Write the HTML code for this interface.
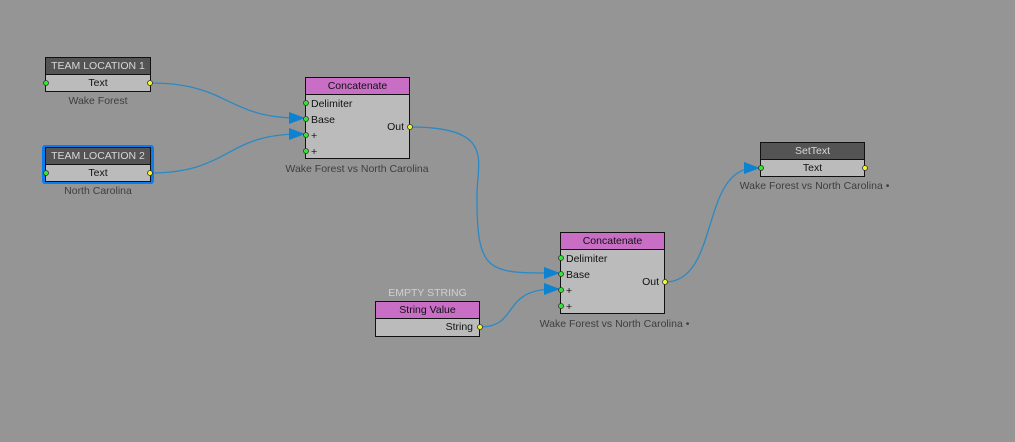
<!DOCTYPE html>
<html><head><meta charset="utf-8"><style>
html,body{margin:0;padding:0}
body{width:1015px;height:442px;background:#959595;position:relative;overflow:hidden;font-family:"Liberation Sans","DejaVu Sans",sans-serif;font-size:10.5px;color:#111}
.n{position:absolute;border:1px solid #111;background:#bbbbbb;box-sizing:border-box}
.h{height:17px;line-height:17px;text-align:center;border-bottom:1px solid #111;box-sizing:border-box}
.dk{background:#545454;color:#d8d8d8}
.pk{background:#c86ec4;color:#111}
.r{height:16px;line-height:17px;position:relative;padding-left:5px}
.lbl{position:absolute;color:#3e3e3e;font-size:10.5px;text-align:center}
</style></head><body>
<svg width="1015" height="442" style="position:absolute;left:0;top:0" xmlns="http://www.w3.org/2000/svg">
<g fill="none" stroke="#2a89c5" stroke-width="1.3">
<path d="M150 83 C230 83 225 118 300 118"/>
<path d="M150 173 C230 173 225 134 300 134"/>
<path d="M410 127 C500 127 475 165 477 200 C477 274 490 273 555 273"/>
<path d="M480 327 C520 327 500 289 555 289"/>
<path d="M665 282 C720 282 700 168 755 168"/>
</g>
<g fill="#0c82d0">
<polygon points="289,112 305,118 289,124"/>
<polygon points="289,128 305,134 289,140"/>
<polygon points="544,267 560,273 544,279"/>
<polygon points="544,283 560,289 544,295"/>
<polygon points="744,162 760,168 744,174"/>
</g>
</svg>

<div class="n" style="left:45px;top:57px;width:106px;height:35px">
<div class="h dk">TEAM LOCATION 1</div>
<div class="r" style="text-align:center;padding:0">Text</div></div>
<div class="lbl" style="left:45px;top:95px;width:106px">Wake Forest</div>

<div style="position:absolute;left:42px;top:145px;width:112px;height:39px;border-radius:3px;background:#0a7cf0"></div>
<div class="n" style="left:45px;top:147px;width:106px;height:35px">
<div class="h dk">TEAM LOCATION 2</div>
<div class="r" style="text-align:center;padding:0">Text</div></div>
<div class="lbl" style="left:45px;top:185px;width:106px">North Carolina</div>

<div class="n" style="left:305px;top:77px;width:105px;height:82px">
<div class="h pk">Concatenate</div>
<div class="r" style="margin-top:1px">Delimiter</div>
<div class="r">Base</div>
<div class="r">+</div>
<div class="r">+</div>
<div style="position:absolute;right:5px;top:43px">Out</div></div>
<div class="lbl" style="left:272px;top:163px;width:170px">Wake Forest vs North Carolina</div>

<div class="n" style="left:560px;top:232px;width:105px;height:82px">
<div class="h pk">Concatenate</div>
<div class="r" style="margin-top:1px">Delimiter</div>
<div class="r">Base</div>
<div class="r">+</div>
<div class="r">+</div>
<div style="position:absolute;right:5px;top:43px">Out</div></div>
<div class="lbl" style="left:527px;top:318px;width:175px">Wake Forest vs North Carolina •</div>

<div class="lbl" style="left:375px;top:287px;width:105px;color:#d0d0d0">EMPTY STRING</div>
<div class="n" style="left:375px;top:301px;width:105px;height:36px">
<div class="h pk">String Value</div>
<div class="r" style="text-align:right;padding:0 6px 0 0">String</div></div>

<div class="n" style="left:760px;top:142px;width:105px;height:35px">
<div class="h dk">SetText</div>
<div class="r" style="text-align:center;padding:0">Text</div></div>
<div class="lbl" style="left:727px;top:180px;width:175px">Wake Forest vs North Carolina •</div>

<svg width="1015" height="442" style="position:absolute;left:0;top:0" xmlns="http://www.w3.org/2000/svg">
<g stroke="#333" stroke-width="0.8">
<circle cx="46" cy="83" r="2.5" fill="#2eea2e"/>
<circle cx="150" cy="83" r="2.5" fill="#f4f42a"/>
<circle cx="46" cy="173" r="2.5" fill="#2eea2e"/>
<circle cx="150" cy="173" r="2.5" fill="#f4f42a"/>
<circle cx="306" cy="103" r="2.5" fill="#2eea2e"/>
<circle cx="306" cy="119" r="2.5" fill="#2eea2e"/>
<circle cx="306" cy="135" r="2.5" fill="#2eea2e"/>
<circle cx="306" cy="151" r="2.5" fill="#2eea2e"/>
<circle cx="410" cy="127" r="2.5" fill="#f4f42a"/>
<circle cx="561" cy="258" r="2.5" fill="#2eea2e"/>
<circle cx="561" cy="274" r="2.5" fill="#2eea2e"/>
<circle cx="561" cy="290" r="2.5" fill="#2eea2e"/>
<circle cx="561" cy="306" r="2.5" fill="#2eea2e"/>
<circle cx="665" cy="282" r="2.5" fill="#f4f42a"/>
<circle cx="480" cy="327" r="2.5" fill="#f4f42a"/>
<circle cx="761" cy="168" r="2.5" fill="#2eea2e"/>
<circle cx="865" cy="168" r="2.5" fill="#f4f42a"/>
</g></svg>
</body></html>
